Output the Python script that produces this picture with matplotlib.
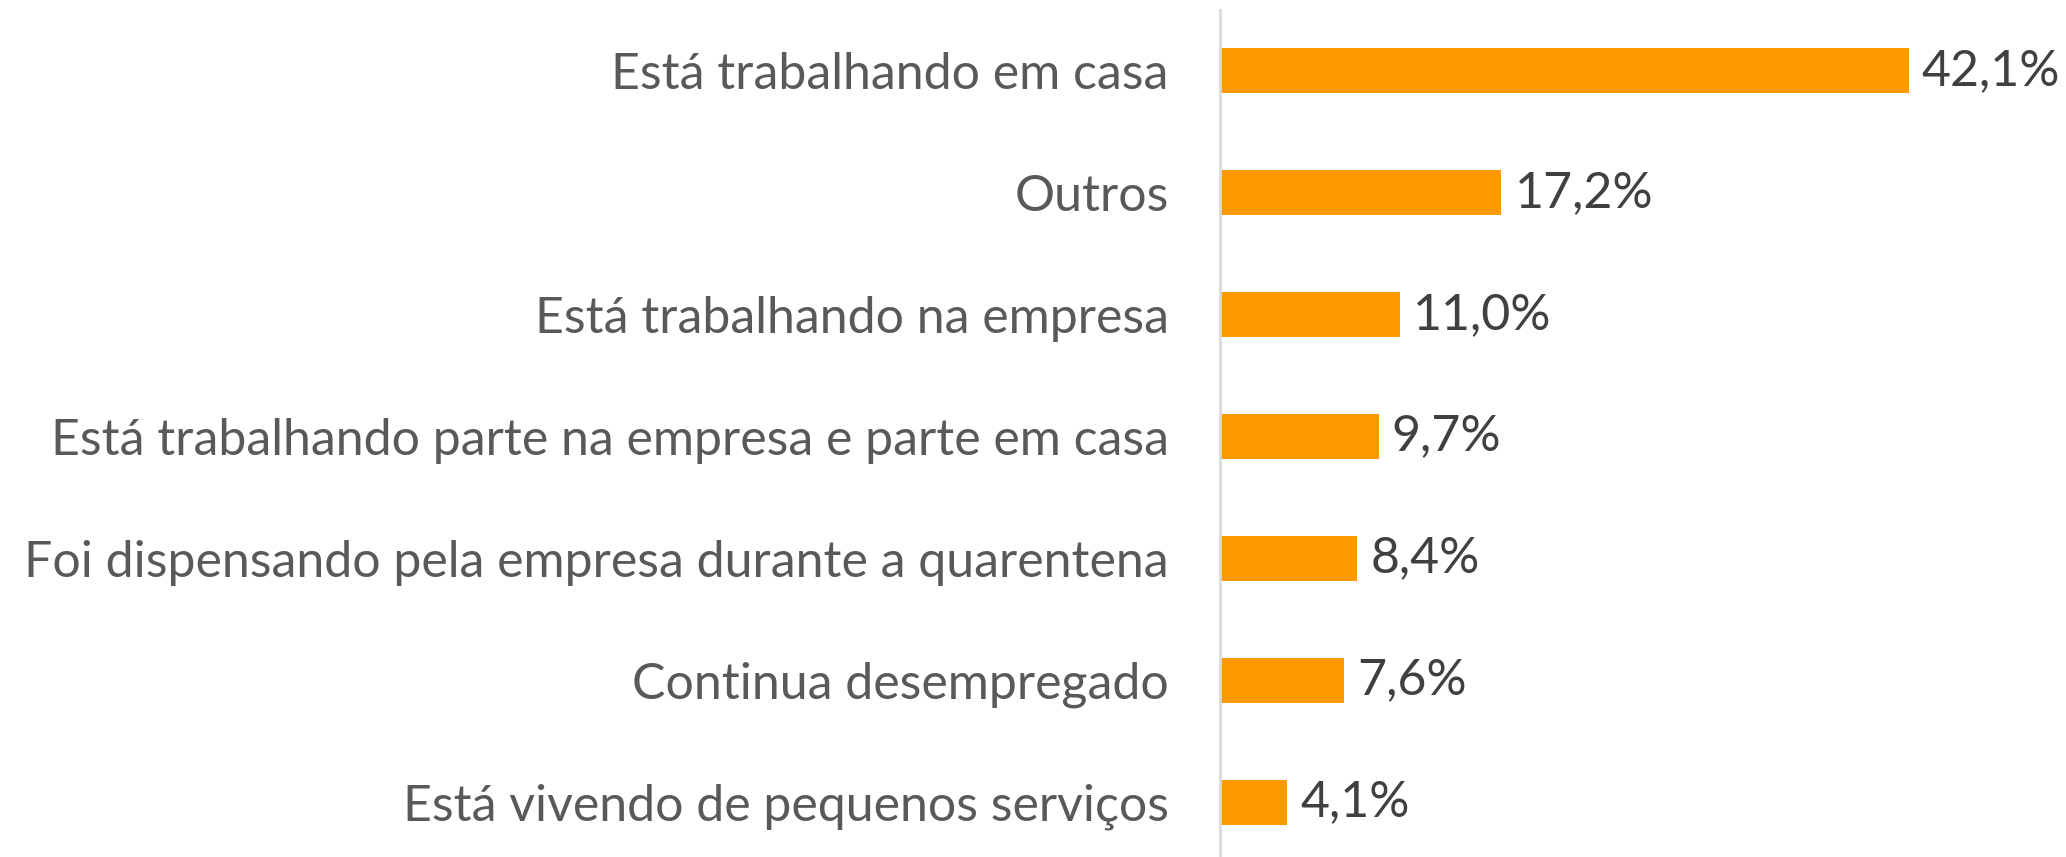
import matplotlib.pyplot as plt

# data (top to bottom)
categories = [
    "Está trabalhando em casa",
    "Outros",
    "Está trabalhando na empresa",
    "Está trabalhando parte na empresa e parte em casa",
    "Foi dispensando pela empresa durante a quarentena",
    "Continua desempregado",
    "Está vivendo de pequenos serviços",
]
values = [42.1, 17.2, 11.0, 9.7, 8.4, 7.6, 4.1]
value_labels = ["42,1%", "17,2%", "11,0%", "9,7%", "8,4%", "7,6%", "4,1%"]

W, H = 2066, 857
fig = plt.figure(figsize=(W / 100, H / 100), dpi=100)
ax = fig.add_axes([1220 / W, 0, 818 / W, 847 / H])

ypos = list(range(len(categories)))
ax.barh(ypos, values, height=0.37, color="#FF9900")
ax.set_xlim(0, 50)
ax.set_ylim(6.45, -0.5)

for y, v, lab in zip(ypos, values, value_labels):
    ax.text(v + 0.8, y, lab, va="center", ha="left", fontsize=36,
            family="Lato", color="#404040")

ax.set_yticks(ypos)
ax.set_yticklabels(categories, fontsize=36, family="Lato", color="#595959")
ax.tick_params(axis="y", length=0, pad=37)
ax.set_xticks([])
for s in ["top", "right", "bottom"]:
    ax.spines[s].set_visible(False)
ax.spines["left"].set_color("#D9D9D9")
ax.spines["left"].set_linewidth(2)

fig.savefig("out.png", dpi=100)
